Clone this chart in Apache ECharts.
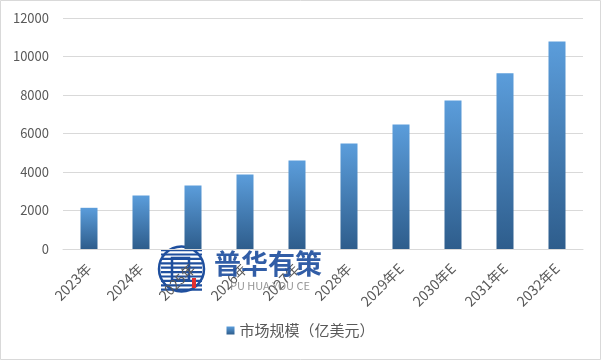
<!DOCTYPE html>
<html><head><meta charset="utf-8">
<script src="https://cdn.jsdelivr.net/npm/echarts@6/dist/echarts.min.js"></script>
<style>html,body{margin:0;padding:0;background:#fff}#c{width:601px;height:360px}</style>
</head><body><div id="c"></div>
<script>
var categories = ['2023年','2024年','2025年','2026年','2027年','2028年','2029年E','2030年E','2031年E','2032年E'];
var seriesName = '市场规模（亿美元）';
var values = [2140, 2780, 3300, 3870, 4600, 5480, 6470, 7720, 9130, 10780];
var yTicks = {min: 0, max: 12000, interval: 2000};

var chart = echarts.init(document.getElementById('c'), null, {renderer: 'canvas'});
var font = '"Microsoft YaHei","Noto Sans CJK SC","DejaVu Sans",sans-serif';
var stripes = [];
for (var i = 0; i < 10; i++) {
  stripes.push({type: 'rect', shape: {x: 161, y: 249 + i * 4.4, width: 41, height: 2.2}, style: {fill: '#1f4f9e'}});
}
chart.setOption({
  animation: false,
  backgroundColor: '#fff',
  textStyle: {fontFamily: font},
  grid: {left: 63, right: 18, top: 18, bottom: 111, containLabel: false},
  legend: {
    bottom: 17, left: 'center', itemWidth: 8, itemHeight: 8, itemGap: 6,
    icon: 'rect',
    textStyle: {color: '#595959', fontSize: 15, fontFamily: font},
    data: [seriesName]
  },
  xAxis: {
    type: 'category', data: categories,
    axisLine: {lineStyle: {color: '#d9d9d9'}},
    axisTick: {show: false},
    axisLabel: {rotate: 45, color: '#595959', fontSize: 14, margin: 17, interval: 0}
  },
  yAxis: {
    type: 'value', min: yTicks.min, max: yTicks.max, interval: yTicks.interval,
    axisLine: {show: false}, axisTick: {show: false},
    axisLabel: {color: '#595959', fontSize: 13, margin: 14, formatter: function (v) { return String(v); }},
    splitLine: {lineStyle: {color: '#d9d9d9'}}
  },
  series: [{
    name: seriesName, type: 'bar', data: values, barWidth: 17,
    itemStyle: {color: new echarts.graphic.LinearGradient(0, 0, 0, 1, [
      {offset: 0, color: '#5b9ddb'}, {offset: 1, color: '#2e5d8c'}])}
  }],
  graphic: [
    {type: 'rect', shape: {x: 0.5, y: 0.5, width: 600, height: 359}, style: {fill: 'none', stroke: '#d9d9d9', lineWidth: 1}, z: 100},
    {type: 'group', z: 100, children: stripes.concat([
      {type: 'circle', shape: {cx: 181.5, cy: 269, r: 22.5}, style: {fill: 'none', stroke: '#1f4f9e', lineWidth: 2.5}},
      {type: 'rect', shape: {x: 172, y: 258, width: 17, height: 22}, style: {fill: 'none', stroke: '#1f4f9e', lineWidth: 2.5}},
      {type: 'rect', shape: {x: 192, y: 278, width: 4, height: 10}, style: {fill: '#e03030'}}
    ]), style: {opacity: 0.9}},
    {type: 'text', left: 214, top: 250, style: {text: '普华有策', fill: '#1f4f9e', font: 'bold 27px ' + font, opacity: 0.92}, z: 100},
    {type: 'text', left: 230, top: 280, style: {text: 'PU HUA YOU CE', fill: '#8a8a8a', font: '11px ' + font, opacity: 0.9}, z: 100}
  ]
});
</script></body></html>
